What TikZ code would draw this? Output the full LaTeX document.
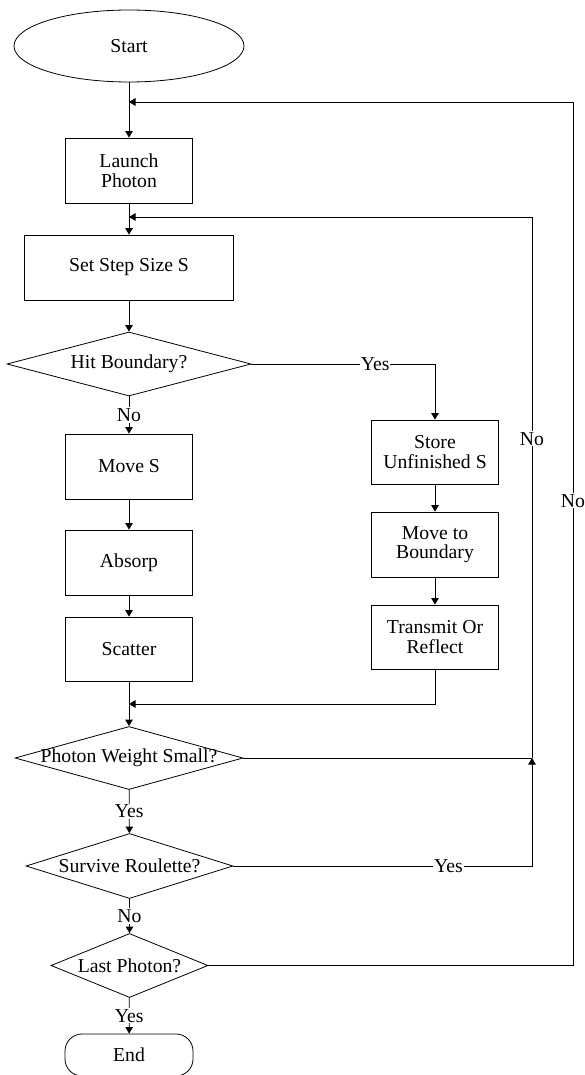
\documentclass[tikz,border=0pt]{standalone}
\usepackage{fontspec}
\setmainfont{Liberation Serif}
\newfontfamily\tnr{Liberation Serif}
\usetikzlibrary{shapes.geometric,arrows.meta}
\begin{document}
\begin{tikzpicture}[x=1pt,y=-1pt,
  every node/.style={font=\tnr\fontsize{19.7}{19.6}\selectfont},
  box/.style={draw, line width=0.8pt, rectangle, minimum width=127pt, minimum height=64pt, inner sep=0pt, align=center},
  dec/.style={draw, line width=0.8pt, diamond, inner sep=0pt},
  lab/.style={fill=white, inner sep=1pt},
  line/.style={line width=0.8pt},
  arr/.style={line, -{Triangle[length=6.5pt,width=7.5pt]}}
]
\useasboundingbox (0,0) rectangle (585,1075);

\node[draw, line width=0.8pt, ellipse, minimum width=230pt, minimum height=72pt, inner sep=0pt] (start) at (129,46) {Start};
\node[box, minimum height=65pt] (launch) at (129,170.5) {Launch\\Photon};
\node[box, minimum width=209pt, minimum height=65pt] (setstep) at (129,267.5) {Set Step Size S};
\node[dec, minimum width=244pt, minimum height=64pt] (hit) at (129,364) {\makebox[0pt]{Hit Boundary?}};
\node[box, minimum height=65pt] (moves) at (129,466.5) {Move S};
\node[box, minimum height=65pt] (absorp) at (129,562.5) {Absorp};
\node[box] (scatter) at (129,649) {Scatter};
\node[box] (store) at (435,452) {Store\\Unfinished S};
\node[box, minimum height=65pt] (moveto) at (435,544.5) {Move to\\Boundary};
\node[box] (transmit) at (435,637) {Transmit Or\\Reflect};
\node[dec, minimum width=228pt, minimum height=63pt] (weight) at (129,758) {\makebox[0pt]{Photon Weight Small?}};
\node[dec, minimum width=207pt, minimum height=65pt] (survive) at (129.5,866) {\makebox[0pt]{Survive Roulette?}};
\node[dec, minimum width=157pt, minimum height=64pt] (last) at (129.5,965.5) {\makebox[0pt]{Last Photon?}};
\node[draw, line width=0.8pt, rectangle, rounded corners=17pt, minimum width=128pt, minimum height=42pt, inner sep=0pt] (end) at (129,1055) {End};

\coordinate (j0) at (129,102);
\coordinate (o0) at (573,102);
\coordinate (j1) at (129,217);
\coordinate (j2) at (129,704);
\coordinate (j3) at (532,758);

\draw[arr] (start) -- (launch);
\draw[arr] (launch) -- (setstep);
\draw[arr] (setstep) -- (hit);
\draw[arr] (hit.east) -| node[lab, pos=0.337] {Yes} (store.north);
\draw[arr] (hit) -- node[lab] {No} (moves);
\draw[arr] (moves) -- (absorp);
\draw[arr] (absorp) -- (scatter);
\draw[arr] (store) -- (moveto);
\draw[arr] (moveto) -- (transmit);
\draw[arr] (transmit.south) |- (j2);
\draw[arr] (scatter) -- (weight);
\draw[line] (weight.east) -- (j3);
\draw[arr] (weight) -- node[lab] {Yes} (survive);
\draw[arr] (survive.east) -| node[lab, pos=0.36] {Yes} (j3);
\draw[arr] (j3) |- node[lab, pos=0.295] {No} (j1);
\draw[arr] (survive) -- node[lab] {No} (last);
\draw[arr] (last.east) -| node[lab, pos=0.769] {No} (o0) -- (j0);
\draw[arr] (last) -- node[lab] {Yes} (end);
\end{tikzpicture}
\end{document}
